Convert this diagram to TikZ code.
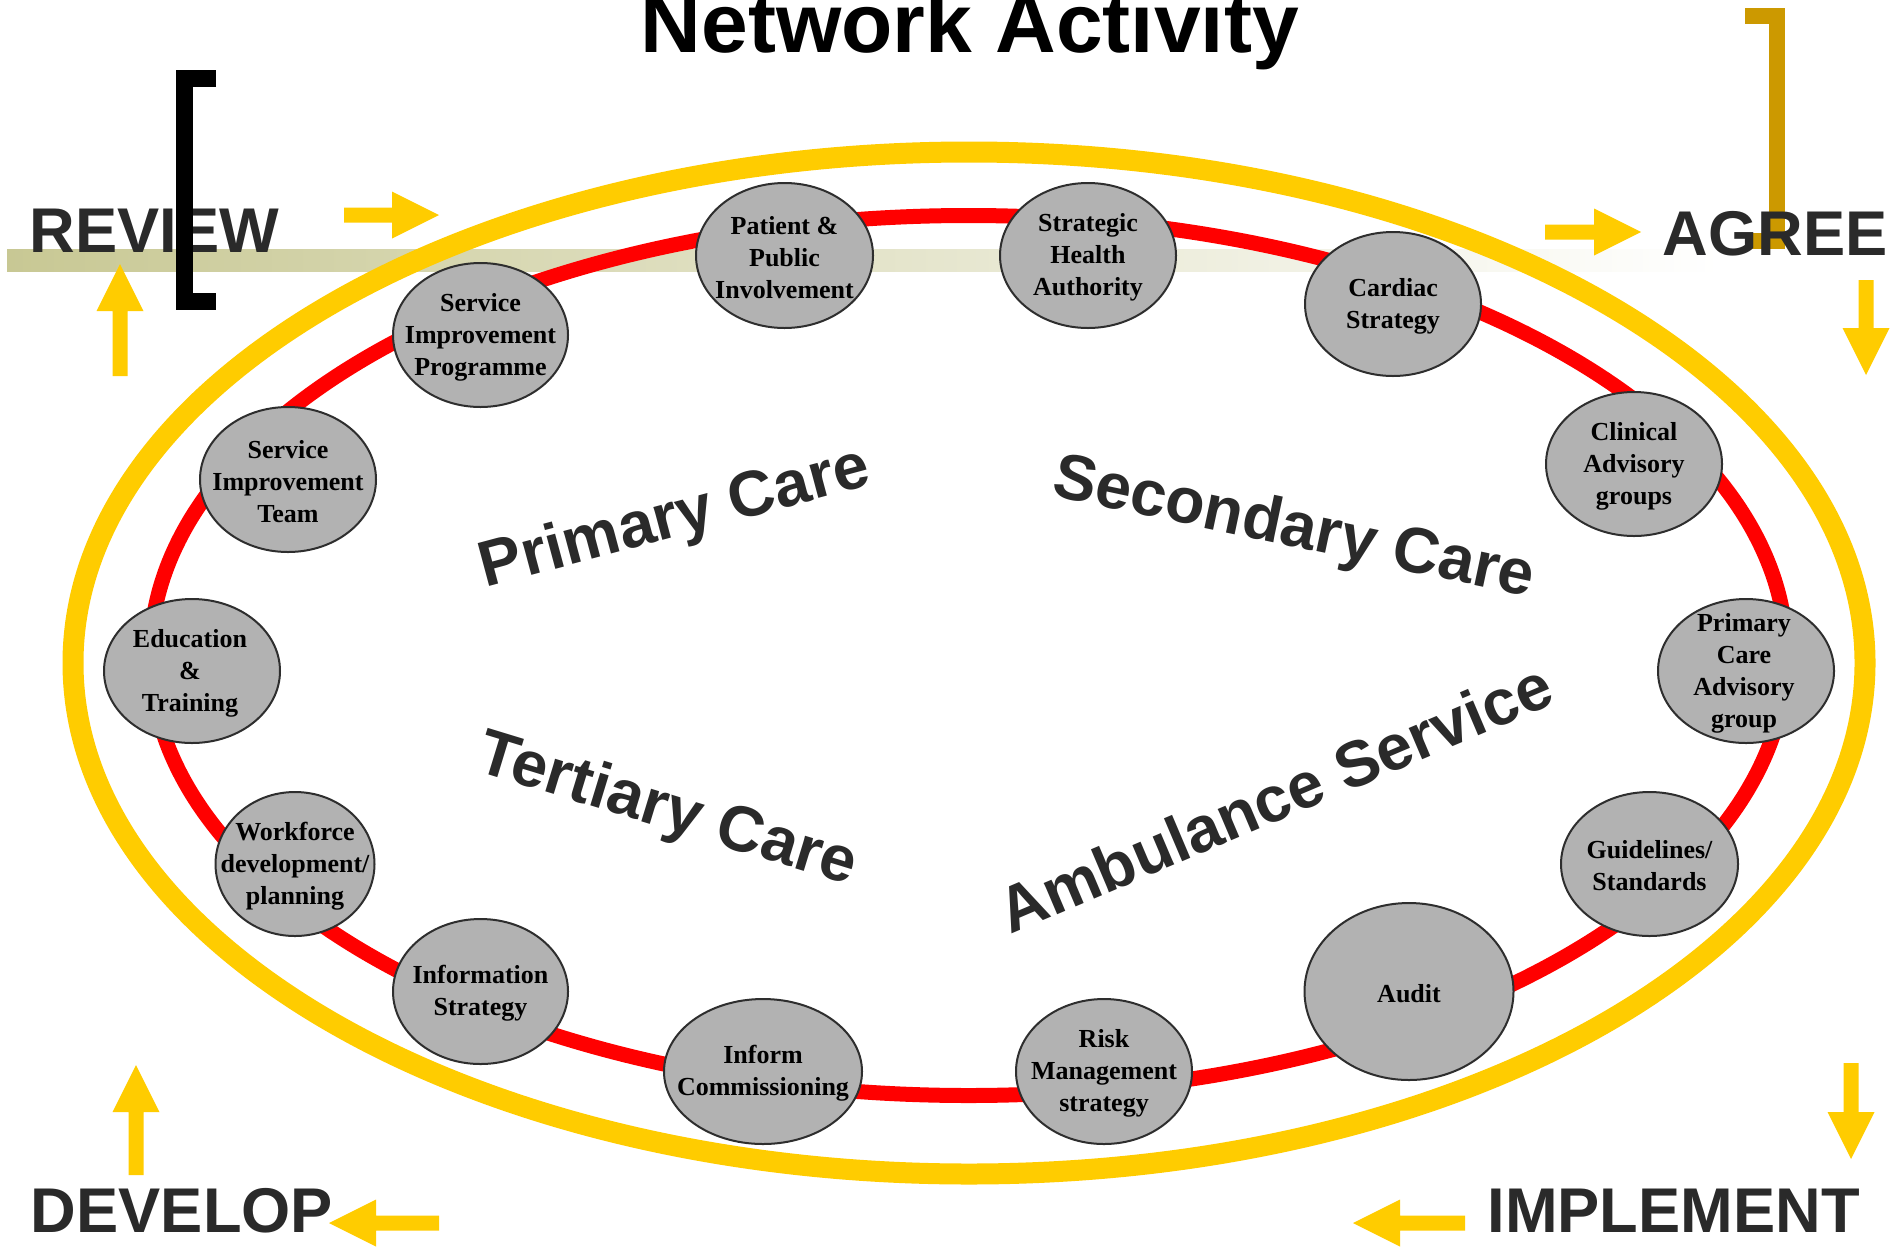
\documentclass[tikz,border=0pt]{standalone}
\usepackage{fontspec}
\setmainfont{Liberation Serif}
\newfontfamily\arialfont{Liberation Sans}
\usetikzlibrary{shapes.geometric}
\definecolor{ayellow}{HTML}{FFCC00}
\definecolor{agold}{HTML}{CC9900}
\definecolor{ared}{HTML}{FF0000}
\definecolor{bubfill}{HTML}{B2B2B2}
\definecolor{bubline}{HTML}{2E2E2E}
\definecolor{labgray}{HTML}{2A2A2A}
\definecolor{bandL}{HTML}{C8C894}
\definecolor{bandM}{HTML}{E0E0C6}
\begin{document}
\begin{tikzpicture}[x=0.5pt,y=-0.5pt,
  bub/.style={ellipse, draw=bubline, line width=1pt, fill=bubfill, inner sep=0pt, outer sep=0pt},
  btxt/.style={align=center, inner sep=0pt, font=\bfseries\fontsize{13pt}{16pt}\selectfont, yshift=-1pt},
  biglab/.style={inner sep=0pt, text=labgray, font=\arialfont\bfseries\fontsize{31.6pt}{36pt}\selectfont},
  seclab/.style={inner sep=0pt, text=labgray, anchor=base west, font=\arialfont\bfseries\fontsize{32.2pt}{36pt}\selectfont},
  pics/barrow/.style={code={\fill[ayellow] (0,-7.5) -- (#1-47,-7.5) -- (#1-47,-23.5) -- (#1,0) -- (#1-47,23.5) -- (#1-47,7.5) -- (0,7.5) -- cycle;}}
]
\useasboundingbox (0,0) rectangle (1898,1248);
\fill[white] (0,0) rectangle (1898,1248);

% band
\shade[left color=bandL, middle color=bandM, right color=white] (7,249) rectangle (1720,271);

% rings
\coordinate (ctry) at (969,663);
\coordinate (ctrr) at (968.5,655.5);
\draw[ayellow, line width=10.5pt] (ctry) ellipse [x radius=448pt, y radius=255.5pt];
\draw[ared, line width=7.5pt] (ctrr) ellipse [x radius=409pt, y radius=220pt];

% bubbles
\node[bub, minimum width=87.5pt, minimum height=72pt] (spp) at (480.5,335) {};
\node[btxt] (spp-t) at (spp) {Service\\Improvement\\Programme};
\node[bub, minimum width=88.5pt, minimum height=72.5pt] (ppi) at (784.5,255.5) {};
\node[btxt] (ppi-t) at (ppi) {Patient \&\\Public\\Involvement};
\node[bub, minimum width=88pt, minimum height=72.5pt] (sha) at (1088,255.5) {};
\node[btxt] (sha-t) at (sha) {Strategic\\Health\\Authority};
\node[bub, minimum width=88pt, minimum height=72pt] (cs) at (1393,304) {};
\node[btxt] (cs-t) at (cs) {Cardiac\\Strategy};
\node[bub, minimum width=88pt, minimum height=72pt] (cag) at (1634,464) {};
\node[btxt] (cag-t) at (cag) {Clinical\\Advisory\\groups};
\node[bub, minimum width=88pt, minimum height=72pt] (pcag) at (1746,671) {};
\node[btxt] (pcag-t) at ([xshift=-1pt]pcag.center) {Primary\\Care\\Advisory\\group};
\node[bub, minimum width=88.5pt, minimum height=72pt] (gs) at (1649.5,864) {};
\node[btxt] (gs-t) at (gs) {Guidelines/\\Standards};
\node[bub, minimum width=104.5pt, minimum height=88.5pt] (audit) at (1409,991.5) {};
\node[btxt] (audit-t) at (audit) {Audit};
\node[bub, minimum width=88pt, minimum height=72.5pt] (rms) at (1104,1071.5) {};
\node[btxt] (rms-t) at (rms) {Risk\\Management\\strategy};
\node[bub, minimum width=99pt, minimum height=72.5pt] (ic) at (763,1071.5) {};
\node[btxt] (ic-t) at (ic) {Inform\\Commissioning};
\node[bub, minimum width=87.5pt, minimum height=72.5pt] (is) at (480.5,991.5) {};
\node[btxt] (is-t) at (is) {Information\\Strategy};
\node[bub, minimum width=79.5pt, minimum height=72pt] (wdp) at (295,864) {};
\node[btxt] (wdp-t) at (wdp) {Workforce\\development/\\planning};
\node[bub, minimum width=88pt, minimum height=72pt] (et) at (192,671) {};
\node[btxt] (et-t) at ([xshift=-1pt]et.center) {Education\\\&\\Training};
\node[bub, minimum width=88pt, minimum height=72.5pt] (sit) at (288,479.5) {};
\node[btxt] (sit-t) at (sit) {Service\\Improvement\\Team};

% sector labels
\node[seclab, rotate=15] (primary) at (485.5,588) {Primary Care};
\node[seclab, rotate=-12] (secondary) at (1050,495) {Secondary Care};
\node[seclab, rotate=-17] (tertiary) at (474,770) {Tertiary Care};
\node[seclab, rotate=23] (ambulance) at (1010,935) {Ambulance Service};

% corner labels and brackets
\node[biglab, anchor=base] (review) at (154.5,252) {REVIEW};
\draw[black, line width=8.5pt, line join=miter] (216,78) -- (184.5,78) -- (184.5,301) -- (216,301);
\draw[agold, line width=8pt, line join=miter] (1745,16) -- (1777,16) -- (1777,241) -- (1745,241);
\node[biglab, anchor=base] (agree) at (1775,255) {AGREE};
\node[biglab, anchor=base] (develop) at (182,1232) {DEVELOP};
\node[biglab, anchor=base] (implement) at (1673.5,1232) {IMPLEMENT};
\node[inner sep=0pt, anchor=base, font=\arialfont\bfseries\fontsize{42pt}{48pt}\selectfont] (title) at (970,52.5) {Network Activity};

% block arrows
\pic (ar1) at (344,215) {barrow=95};
\pic[rotate=90] (ar2) at (120,376) {barrow=112};
\pic (ar3) at (1545,232) {barrow=96};
\pic[rotate=-90] (ar4) at (1866,280) {barrow=95};
\pic[rotate=90] (ar5) at (136,1175) {barrow=110};
\pic[rotate=180] (ar6) at (439,1223) {barrow=110};
\pic[rotate=-90] (ar7) at (1851,1063) {barrow=96};
\pic[rotate=180] (ar8) at (1465,1223) {barrow=112};
\end{tikzpicture}
\end{document}
